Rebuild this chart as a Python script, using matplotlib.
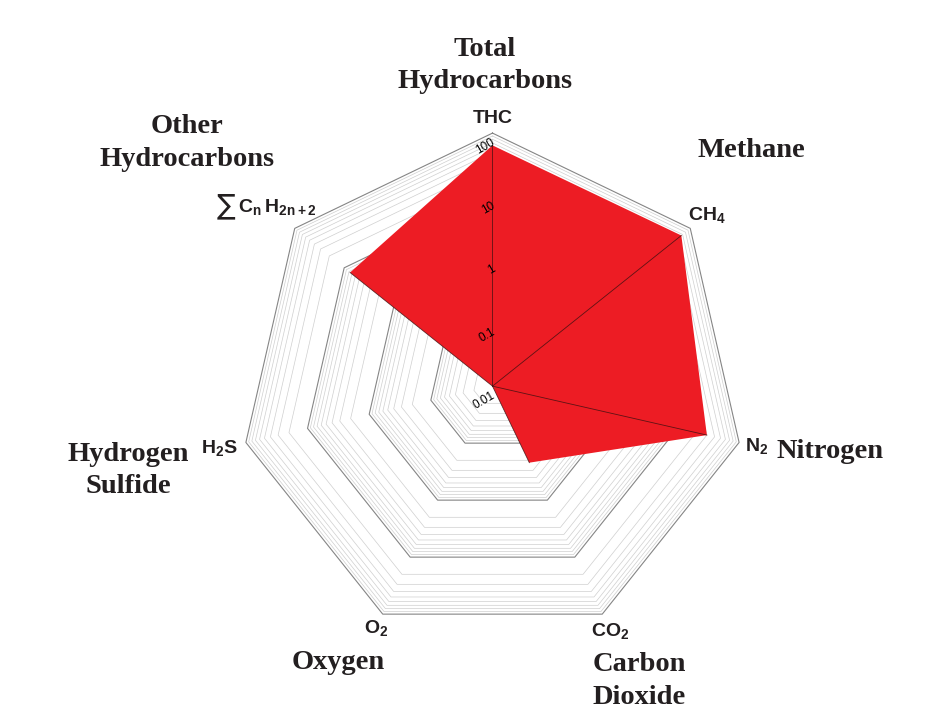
import numpy as np
import matplotlib
matplotlib.use("Agg")
import matplotlib.pyplot as plt

plt.rcParams["mathtext.fontset"] = "custom"
plt.rcParams["mathtext.rm"] = "Liberation Sans"
plt.rcParams["mathtext.bf"] = "Liberation Sans:bold"

# ---- gas composition (log scale, 0.01 .. 100) ----
codes = ["THC", r"$\mathbf{CH_4}$", r"$\mathbf{N_2}$", r"$\mathbf{CO_2}$",
         r"$\mathbf{O_2}$", r"$\mathbf{H_2S}$", r"$\mathbf{C_n\,H_{2n+2}}$"]
names = ["Total\nHydrocarbons", "Methane", "Nitrogen", "Carbon\nDioxide",
         "Oxygen", "Hydrogen\nSulfide", "Other\nHydrocarbons"]
values = [64, 66, 30, 0.22, 0.01, 0.01, 7.6]
decades = [0.01, 0.1, 1, 10, 100]
tick_labels = ["0.01", "0.1", "1", "10", "100"]

vmin, vmax = decades[0], decades[-1]


def radius(v):
    v = np.clip(v, vmin, vmax)
    return (np.log10(v) - np.log10(vmin)) / (np.log10(vmax) - np.log10(vmin))


n = len(codes)
angles = np.deg2rad(90 - np.arange(n) * 360 / n)


def ring(r):
    a = np.append(angles, angles[0])
    return r * np.cos(a), r * np.sin(a)


fig = plt.figure(figsize=(9.43, 7.06), dpi=100)
ax = fig.add_axes([0, 0, 1, 1])
ax.set_xlim(-1.947, 1.781)
ax.set_ylim(-1.264, 1.526)
ax.axis("off")

# minor rings (2..9 within each decade)
for d in decades[:-1]:
    for k in range(2, 10):
        x, y = ring(radius(d * k))
        ax.plot(x, y, color="#cfcfcf", lw=0.5, zorder=1)
# decade rings
for d in decades:
    x, y = ring(radius(d))
    ax.plot(x, y, color="#858585", lw=0.8, zorder=2)

# filled composition polygon
r = radius(np.array(values))
px = r * np.cos(angles)
py = r * np.sin(angles)
ax.fill(px, py, color="#ED1C24", lw=0, zorder=3)
for xi, yi in zip(px, py):
    ax.plot([0, xi], [0, yi], color="#3a1010", lw=0.6, alpha=0.8, zorder=4)

# radial tick labels along the THC axis
for d, lab in zip(decades, tick_labels):
    ax.text(-0.006, radius(d) - 0.012, lab, fontsize=8.5, family="Liberation Sans",
            rotation=30, rotation_mode="anchor", ha="right", va="top", zorder=5)

# short axis codes
code_r = [1.056, 1.085, 1.065, 1.073, 1.063, 1.096, 1.138]
code_ha = ["center", "center", "left", "center", "center", "right", "center"]
code_dx = [0, 0, -0.04, 0, 0, 0.06, 0.04]
for lab, a, rr, ha, dx in zip(codes, angles, code_r, code_ha, code_dx):
    ax.text(rr * np.cos(a) + dx, rr * np.sin(a), lab, fontsize=14,
            family="Liberation Sans", fontweight="bold",
            ha=ha, va="center", color="#231f20", zorder=5)
# summation sign in front of the alkane formula
a = angles[-1]
ax.text(code_r[-1] * np.cos(a) - 0.165, code_r[-1] * np.sin(a) + 0.005, "∑",
        fontsize=20, family="DejaVu Sans", ha="center", va="center",
        color="#231f20", zorder=5)

# full gas names
name_pos = [(-0.030, 1.266), (1.022, 0.930), (1.334, -0.260), (0.579, -1.165),
            (-0.611, -1.094), (-1.441, -0.333), (-1.208, 0.961)]
for lab, (x, y) in zip(names, name_pos):
    ax.text(x, y, lab, fontsize=20.5, family="Liberation Serif", fontweight="bold",
            ha="center", va="center", linespacing=1.38, color="#231f20", zorder=5)

fig.savefig("out.png", dpi=100)
